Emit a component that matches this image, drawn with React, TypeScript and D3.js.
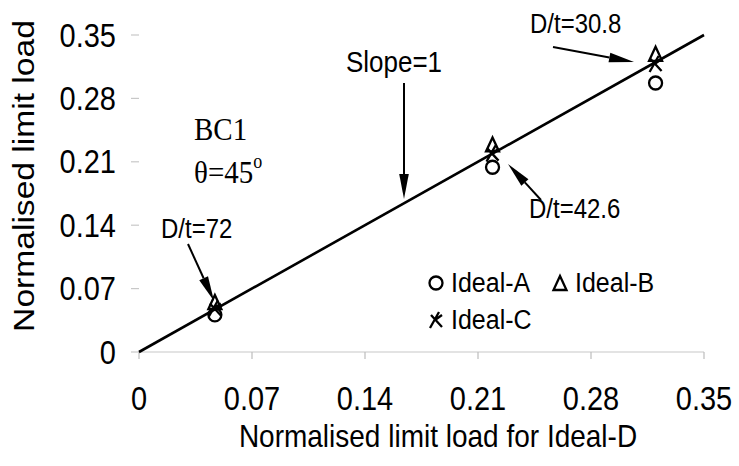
import React from "react";
import * as d3 from "d3";

// Normalised limit load of Ideal-D (x) and the other imperfection shapes (y)
const idealD = [0.047, 0.219, 0.32];
const idealA = [0.041, 0.204, 0.297];
const idealB = [0.053, 0.227, 0.327];
const idealC = [0.048, 0.219, 0.318];
const tickValues = [0, 0.07, 0.14, 0.21, 0.28, 0.35];
const tickLabels = ["0", "0.07", "0.14", "0.21", "0.28", "0.35"];
const slopeLine = [0, 0.35];

const W = 739;
const H = 466;
const SANS = "'Liberation Sans', Arial, sans-serif";
const SERIF = "'Liberation Serif', 'Times New Roman', serif";
const STRETCH = 1.12;

const x = d3.scaleLinear().domain([0, 0.35]).range([139, 704]);
const y = d3.scaleLinear().domain([0, 0.35]).range([352, 35]);

// Text drawn with the slightly tall glyph proportions of the figure
function T({
  x: tx,
  y: ty,
  size,
  anchor = "start",
  family = SANS,
  vertical = false,
  children,
}: {
  x: number;
  y: number;
  size: number;
  anchor?: string;
  family?: string;
  vertical?: boolean;
  children: React.ReactNode;
}) {
  const tf = vertical
    ? `translate(${tx},${ty}) rotate(-90) scale(${STRETCH},1)`
    : `translate(${tx},${ty}) scale(1,${STRETCH})`;
  return (
    <text transform={tf} textAnchor={anchor} fontFamily={family} fontSize={size} fill="#000">
      {children}
    </text>
  );
}

function Arrow({ x1, y1, x2, y2 }: { x1: number; y1: number; x2: number; y2: number }) {
  const ang = Math.atan2(y2 - y1, x2 - x1);
  const len = 25;
  const half = 4.8;
  const bx = x2 - len * Math.cos(ang);
  const by = y2 - len * Math.sin(ang);
  const px = -Math.sin(ang) * half;
  const py = Math.cos(ang) * half;
  return (
    <g>
      <line x1={x1} y1={y1} x2={bx} y2={by} stroke="#000" strokeWidth={2} />
      <path d={`M${x2},${y2}L${bx + px},${by + py}L${bx - px},${by - py}Z`} fill="#000" />
    </g>
  );
}

const circleMark = (cx: number, cy: number) => (
  <circle cx={cx} cy={cy} r={6.5} fill="none" stroke="#000" strokeWidth={2.3} />
);
const triangleMark = (cx: number, cy: number) => (
  <path
    d={`M${cx},${cy - 9}L${cx + 6.5},${cy + 5}L${cx - 6.5},${cy + 5}Z`}
    fill="none"
    stroke="#000"
    strokeWidth={2.3}
  />
);
const starMark = (cx: number, cy: number) => (
  <path
    d={`M${cx - 6},${cy + 8}L${cx + 3},${cy - 8}M${cx - 5},${cy - 5}L${cx + 6},${cy + 7}M${cx - 1},${cy}L${cx + 6},${cy - 5}`}
    fill="none"
    stroke="#000"
    strokeWidth={2.3}
  />
);

export default function App() {
  const line = d3
    .line<number>()
    .x((d) => x(d))
    .y((d) => y(d));

  return (
    <svg width={W} height={H} style={{ display: "block", position: "absolute", left: 0, top: 0, background: "#fff" }}>
      <rect width={W} height={H} fill="#fff" />

      {/* axes */}
      <line x1={x(0)} x2={x(0.35)} y1={y(0)} y2={y(0)} stroke="#c8c8c8" strokeWidth={1.2} />
      {tickValues.map((t, i) => (
        <g key={"xt" + i}>
          <line x1={x(t)} x2={x(t)} y1={y(0)} y2={y(0) + 7} stroke="#bdbdbd" strokeWidth={1.2} />
          <T x={x(t)} y={410} size={29} anchor="middle">
            {tickLabels[i]}
          </T>
        </g>
      ))}
      {tickValues.map((t, i) => (
        <g key={"yt" + i}>
          <line x1={x(0) - 8} x2={x(0)} y1={y(t)} y2={y(t)} stroke="#c8c8c8" strokeWidth={1.2} />
          <T x={116} y={y(t) + 11.5} size={29} anchor="end">
            {tickLabels[i]}
          </T>
        </g>
      ))}

      <T x={438} y={447} size={28} anchor="middle">
        Normalised limit load for Ideal-D
      </T>
      <T x={34} y={176} size={30} anchor="middle" vertical>
        Normalised limit load
      </T>

      {/* slope = 1 reference line */}
      <path d={line(slopeLine) || ""} fill="none" stroke="#000" strokeWidth={2.6} />

      {/* data markers */}
      {idealD.map((d, i) => (
        <g key={"a" + i}>{circleMark(x(d), y(idealA[i]))}</g>
      ))}
      {idealD.map((d, i) => (
        <g key={"b" + i}>{triangleMark(x(d), y(idealB[i]))}</g>
      ))}
      {idealD.map((d, i) => (
        <g key={"c" + i}>{starMark(x(d), y(idealC[i]))}</g>
      ))}

      {/* annotations */}
      <T x={394} y={72} size={26} anchor="middle">
        Slope=1
      </T>
      <Arrow x1={404} y1={83} x2={404} y2={199} />

      <T x={530} y={33} size={24}>
        D/t=30.8
      </T>
      <Arrow x1={553} y1={47} x2={634} y2={62} />

      <T x={529} y={218} size={24}>
        D/t=42.6
      </T>
      <Arrow x1={541} y1={200} x2={508} y2={164} />

      <T x={161} y={238} size={24}>
        D/t=72
      </T>
      <Arrow x1={188} y1={244} x2={214} y2={301} />

      <T x={194} y={140} size={29} family={SERIF}>
        BC1
      </T>
      <T x={194} y={183} size={29} family={SERIF}>
        θ=45
        <tspan fontSize={18} dy={-13}>o</tspan>
      </T>

      {/* legend */}
      {circleMark(436, 283)}
      <T x={451} y={292} size={25}>
        Ideal-A
      </T>
      {triangleMark(560, 285)}
      <T x={575} y={292} size={25}>
        Ideal-B
      </T>
      {starMark(436, 320)}
      <T x={451} y={329} size={25}>
        Ideal-C
      </T>
    </svg>
  );
}
